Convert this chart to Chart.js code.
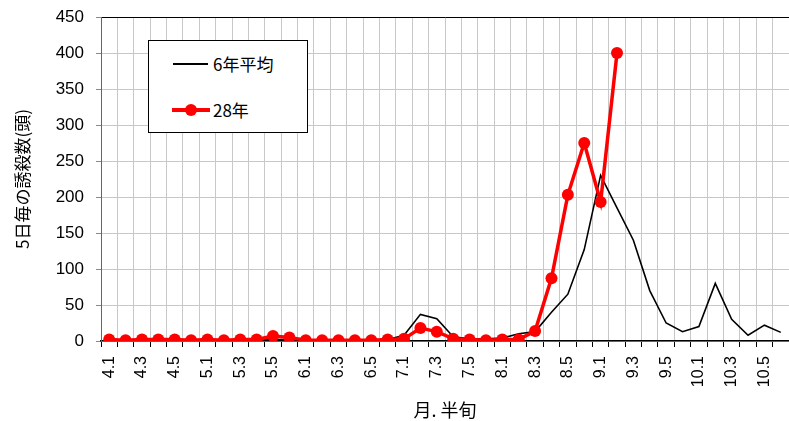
<!DOCTYPE html>
<html>
<head>
<meta charset="utf-8">
<script src="https://cdn.jsdelivr.net/npm/chart.js@4/dist/chart.umd.min.js"></script>
<style>
    body { margin: 0; background: #fff; }
    #wrap { position: relative; width: 789px; height: 421px; }
    #legendBox {
        position: absolute; left: 148px; top: 40px; width: 158px; height: 91px;
        background: #fff; border: 1px solid #000;
        font-family: 'Noto Sans CJK JP', sans-serif; font-size: 17px; color: #000;
    }
    .row { position: absolute; left: 0; height: 20px; }
    .row span { position: absolute; left: 64px; top: -3px; white-space: nowrap; }
    .swatch { position: absolute; }
</style>
</head>
<body>
<div id="wrap">
    <canvas id="chart"></canvas>
    <div id="legendBox">
        <div class="row" style="top:13px;">
            <div class="swatch" style="left:24px; top:9px; width:35px; height:2px; background:#000;"></div>
            <span>6年平均</span>
        </div>
        <div class="row" style="top:59px;">
            <div class="swatch" style="left:23px; top:8px; width:38px; height:4px; background:#ff0000;"></div>
            <div class="swatch" style="left:36px; top:4px; width:12px; height:12px; border-radius:50%; background:#ff0000;"></div>
            <span>28年</span>
        </div>
    </div>
</div>
<script>
// 半旬 categories, April to October
const categories = [
    '4.1', '4.2', '4.3', '4.4', '4.5', '4.6',
    '5.1', '5.2', '5.3', '5.4', '5.5', '5.6',
    '6.1', '6.2', '6.3', '6.4', '6.5', '6.6',
    '7.1', '7.2', '7.3', '7.4', '7.5', '7.6',
    '8.1', '8.2', '8.3', '8.4', '8.5', '8.6',
    '9.1', '9.2', '9.3', '9.4', '9.5', '9.6',
    '10.1', '10.2', '10.3', '10.4', '10.5', '10.6'
];

// 6-year average
const avg6 = [
    1, 1, 1, 1, 1, 1,
    1, 1, 1, 1, 2, 2,
    1, 1, 1, 1, 1, 2,
    8, 37, 31, 6, 3, 3,
    4, 10, 13, 40, 65, 127,
    230, 185, 140, 70, 25, 13,
    20, 80, 30, 8, 22, 12
];

// H28 (data ends at 9.2)
const year28 = [
    2, 1, 2, 2, 2, 1,
    2, 1, 2, 2, 7, 5,
    1, 1, 1, 1, 1, 2,
    3, 18, 13, 3, 2, 1,
    2, 2, 14, 87, 203, 275,
    193, 400, null, null, null, null,
    null, null, null, null, null, null
];

const yTicks = [0, 50, 100, 150, 200, 250, 300, 350, 400, 450];

const numFont = { family: "'Liberation Sans', Arial, sans-serif", size: 17 };
const jpFont = { family: "'Noto Sans CJK JP', sans-serif", size: 17 };

new Chart(document.getElementById('chart'), {
    type: 'line',
    data: {
        labels: categories,
        datasets: [
            {
                label: '28年',
                data: year28,
                borderColor: '#ff0000',
                backgroundColor: '#ff0000',
                borderWidth: 3.5,
                pointRadius: 6,
                pointBackgroundColor: '#ff0000',
                pointBorderWidth: 0,
                tension: 0,
                spanGaps: false
            },
            {
                label: '6年平均',
                data: avg6,
                borderColor: '#000',
                borderWidth: 1.6,
                pointRadius: 0,
                tension: 0
            }
        ]
    },
    options: {
        responsive: true,
        maintainAspectRatio: false,
        animation: false,
        layout: { autoPadding: false, padding: { top: 17, right: 0, left: 0, bottom: 0 } },
        plugins: {
            legend: { display: false },
            tooltip: { enabled: false }
        },
        scales: {
            x: {
                offset: true,
                grid: {
                    offset: true,
                    color: '#c8c8c8',
                    tickColor: '#000',
                    tickLength: 6
                },
                border: { color: '#000', width: 1.5 },
                ticks: {
                    autoSkip: false,
                    minRotation: 90,
                    maxRotation: 90,
                    padding: 9,
                    color: '#000',
                    font: { family: "'Liberation Sans', Arial, sans-serif", size: 16 },
                    callback: function(value, index) {
                        return index % 2 === 0 ? categories[index] : '';
                    }
                },
                title: {
                    display: true,
                    text: '月. 半旬',
                    color: '#000',
                    font: { family: "'Noto Sans CJK JP', sans-serif", size: 18 },
                    padding: { top: 0, bottom: 0 }
                },
                afterFit: function(scale) {
                    scale.height = 80;
                    scale.paddingLeft = 0;
                    scale.paddingRight = 0;
                }
            },
            y: {
                min: 0,
                max: 450,
                afterBuildTicks: function(scale) {
                    scale.ticks = yTicks.map(v => ({ value: v }));
                },
                grid: {
                    color: function(ctx) { return ctx.tick && ctx.tick.value === 450 ? '#000' : '#c8c8c8'; },
                    tickColor: '#888',
                    tickLength: 5
                },
                border: { color: '#666', width: 1 },
                ticks: {
                    padding: 12,
                    color: '#000',
                    font: numFont
                },
                title: {
                    display: true,
                    text: '5日毎の誘殺数(頭)',
                    color: '#000',
                    font: jpFont,
                    padding: { top: 12, bottom: 0 }
                },
                afterFit: function(scale) {
                    scale.width = 101;
                    scale.paddingTop = 0;
                    scale.paddingBottom = 0;
                }
            }
        }
    }
});
</script>
</body>
</html>
